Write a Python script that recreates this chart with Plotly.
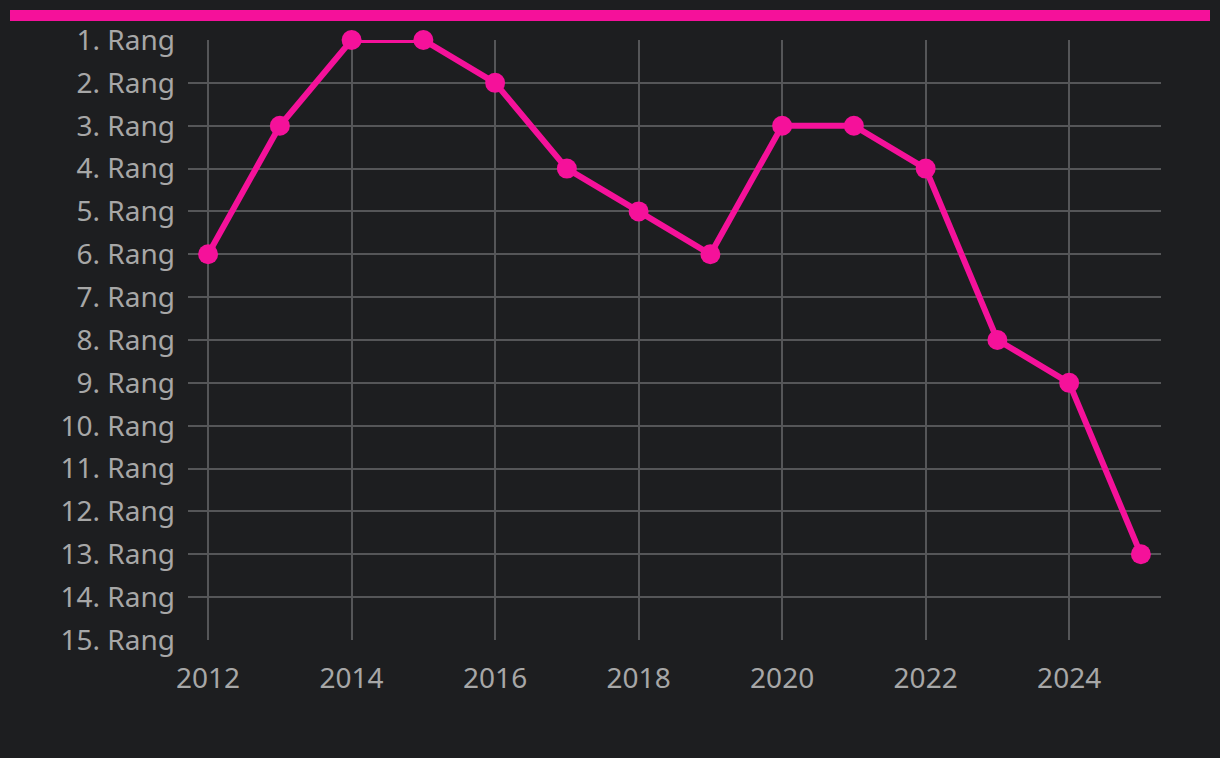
import plotly.graph_objects as go

years = [2012, 2013, 2014, 2015, 2016, 2017, 2018, 2019, 2020, 2021, 2022, 2023, 2024, 2025]
ranks = [6, 3, 1, 1, 2, 4, 5, 6, 3, 3, 4, 8, 9, 13]
rank_ticks = list(range(1, 16))
rank_labels = [f"{r}. Rang" for r in rank_ticks]

PINK = "#F5119A"
BG = "#1D1E20"
GRID = "#555658"
TXT = "#A7A7A7"

fig = go.Figure()
fig.add_trace(go.Scatter(
    x=years, y=ranks, mode="lines+markers",
    line=dict(color=PINK, width=6),
    marker=dict(color=PINK, size=20),
    cliponaxis=False, showlegend=False,
))

W, H = 1220, 758
L, R, T, B = 188, 59, 40, 118
pw, ph = W - L - R, H - T - B

def px_x(p):
    return (p - L) / pw

def px_y(p):
    return (H - B - p) / ph

fig.add_shape(type="rect", xref="paper", yref="paper",
              x0=px_x(10), x1=px_x(1210), y0=px_y(21), y1=px_y(10),
              fillcolor=PINK, line=dict(width=0), layer="above")

fig.update_layout(
    width=W, height=H,
    margin=dict(l=L, r=R, t=T, b=B, pad=0),
    paper_bgcolor=BG, plot_bgcolor=BG,
    font=dict(family="Noto Sans, Lato, sans-serif", size=28, color=TXT),
    xaxis=dict(range=[2011.72, 2025.28], tickmode="linear", tick0=2012, dtick=2,
               showgrid=True, gridcolor=GRID, gridwidth=2, zeroline=False,
               showline=False, ticks="", ticklabelstandoff=19,
               tickfont=dict(size=28, color=TXT)),
    yaxis=dict(range=[15, 1], tickmode="array", tickvals=rank_ticks, ticktext=rank_labels,
               showgrid=True, gridcolor=GRID, gridwidth=2, zeroline=False,
               showline=False, ticks="", ticklabelstandoff=12,
               tickfont=dict(size=28, color=TXT)),
)

fig.write_html(
    "out.html",
    config={"displayModeBar": False},
    post_script=(
        "document.body.style.margin='0';"
        "document.body.style.background='" + BG + "';"
        "document.documentElement.style.background='" + BG + "';"
    ),
)
